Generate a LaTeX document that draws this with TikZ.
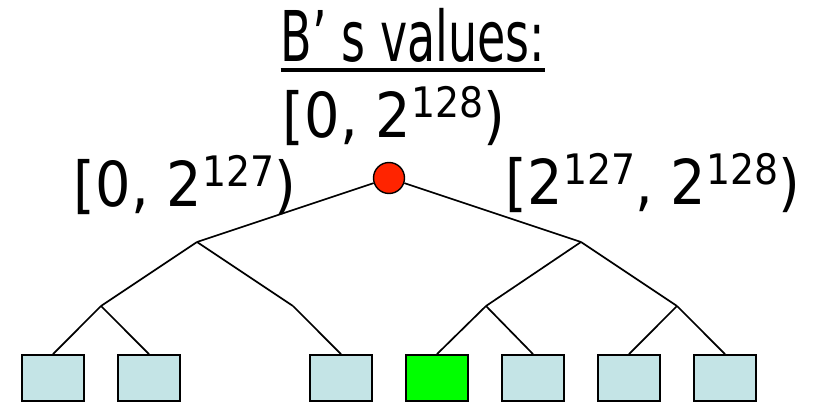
\documentclass[tikz,border=0pt]{standalone}
\usepackage{fontspec}
\setmainfont{DejaVu Sans Condensed}
\newfontfamily\titlefont[FakeStretch=0.73]{DejaVu Sans Condensed}
\usepackage{tikz}
\usetikzlibrary{
    positioning,
    calc
}
\definecolor{LeafBlue}{RGB}{196,228,230}
\definecolor{LeafGreen}{RGB}{0,255,0}
\definecolor{RootRed}{RGB}{255,36,0}
\newcommand{\pw}[1]{2\raisebox{20pt}{\fontsize{42}{42}\selectfont #1}}

\begin{document}
\begin{tikzpicture}[
    x=1pt,
    y=-1pt,
    leaf/.style={draw, line width=1.8pt, fill=LeafBlue,
        minimum width=62pt, minimum height=46pt, inner sep=0pt},
    edge/.style={line width=1.7pt},
    label/.style={anchor=base, inner sep=0pt,
        font=\fontsize{62}{70}\selectfont}
]

\useasboundingbox (0,0) rectangle (814,403);

\node[label, font=\titlefont\fontsize{70}{78}\selectfont] (title)
    at (413,62) {B’ s values:};
\draw[line width=3.5pt]
    ($(title.base west)+(0,8)$) -- ($(title.base east)+(0,8)$);

\node[label] (rangeAll) at (394,138) {[0, \pw{128})};
\node[label] (rangeLo) at (185,207) {[0, \pw{127})};
\node[label] (rangeHi) at (653,205) {[\pw{127}, \pw{128})};

% branch points
\coordinate (L) at (197,242);
\coordinate (R) at (581,242);
\coordinate (LL) at (101,306);
\coordinate (LR) at (293,306);
\coordinate (RL) at (486,306);
\coordinate (RR) at (677,306);

% leaves
\node[leaf] (b1) at (53,378) {};
\node[leaf] (b2) at (149,378) {};
\node[leaf] (b3) at (341,378) {};
\node[leaf, fill=LeafGreen] (b4) at (437,378) {};
\node[leaf] (b5) at (533,378) {};
\node[leaf] (b6) at (629,378) {};
\node[leaf] (b7) at (725,378) {};

\draw[edge] (L) -- (LL);
\draw[edge] (L) -- (LR);
\draw[edge] (R) -- (RL);
\draw[edge] (R) -- (RR);

\draw[edge] (LL) -- (b1.north);
\draw[edge] (LL) -- (b2.north);
\draw[edge] (LR) -- (b3.north);
\draw[edge] (RL) -- (b4.north);
\draw[edge] (RL) -- (b5.north);
\draw[edge] (RR) -- (b6.north);
\draw[edge] (RR) -- (b7.north);

\node[circle, draw, line width=1.4pt, fill=RootRed,
    minimum size=31pt, inner sep=0pt] (root) at (389,178) {};

\draw[edge] (root) -- (L);
\draw[edge] (root) -- (R);

\end{tikzpicture}
\end{document}
